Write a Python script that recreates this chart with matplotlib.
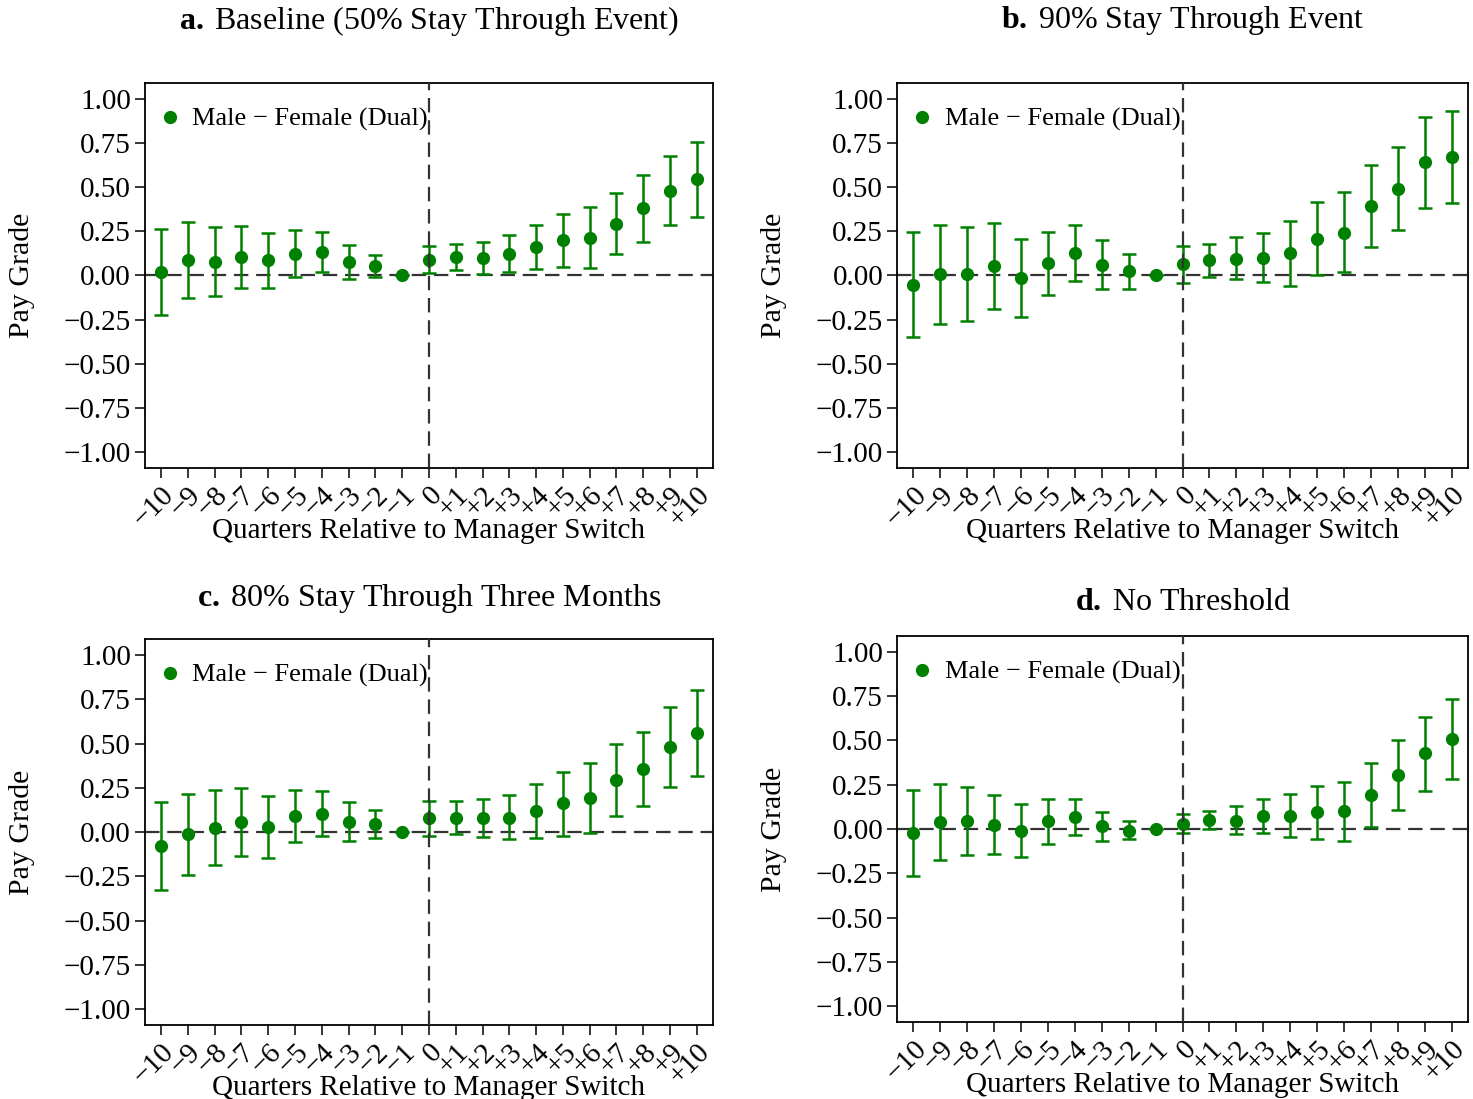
import matplotlib

matplotlib.use("Agg")
import matplotlib.pyplot as plt
from matplotlib.lines import Line2D

plt.rcParams["font.family"] = ["Liberation Serif", "DejaVu Serif"]
plt.rcParams["mathtext.fontset"] = "custom"
plt.rcParams["mathtext.rm"] = "Liberation Serif"
plt.rcParams["mathtext.bf"] = "Liberation Serif:bold"

quarters = list(range(-10, 11))
tick_labels = ["\u2212" + str(-q) if q < 0 else ("0" if q == 0 else "+" + str(q)) for q in quarters]
y_ticks = [1.0, 0.75, 0.5, 0.25, 0.0, -0.25, -0.5, -0.75, -1.0]

# panel a: baseline (50% stay through event)
est_a = [0.019, 0.090, 0.079, 0.105, 0.085, 0.124, 0.134, 0.075, 0.053, 0.0,
         0.089, 0.104, 0.098, 0.124, 0.162, 0.198, 0.213, 0.294, 0.380, 0.480, 0.544]
hi_a = [0.264, 0.305, 0.277, 0.282, 0.241, 0.256, 0.245, 0.171, 0.117, 0.0,
        0.166, 0.177, 0.190, 0.228, 0.286, 0.350, 0.390, 0.469, 0.567, 0.678, 0.757]
lo_a = [-0.226, -0.128, -0.117, -0.070, -0.070, -0.011, 0.021, -0.019, -0.011, 0.0,
        0.013, 0.032, 0.009, 0.021, 0.036, 0.047, 0.041, 0.119, 0.192, 0.284, 0.333]

# panel b: 90% stay through event
est_b = [-0.053, 0.008, 0.008, 0.053, -0.017, 0.072, 0.126, 0.060, 0.023, 0.0,
         0.066, 0.087, 0.096, 0.100, 0.125, 0.209, 0.243, 0.396, 0.491, 0.642, 0.668]
hi_b = [0.245, 0.287, 0.272, 0.296, 0.204, 0.247, 0.285, 0.198, 0.123, 0.0,
        0.168, 0.181, 0.215, 0.238, 0.308, 0.415, 0.472, 0.628, 0.725, 0.898, 0.930]
lo_b = [-0.351, -0.275, -0.257, -0.189, -0.236, -0.109, -0.034, -0.079, -0.077, 0.0,
        -0.040, -0.006, -0.021, -0.036, -0.058, 0.004, 0.017, 0.160, 0.258, 0.383, 0.408]

# panel c: 80% stay through three months
est_c = [-0.080, -0.010, 0.025, 0.057, 0.029, 0.093, 0.104, 0.059, 0.048, 0.0,
         0.078, 0.080, 0.078, 0.080, 0.120, 0.163, 0.193, 0.294, 0.355, 0.483, 0.558]
hi_c = [0.170, 0.216, 0.240, 0.248, 0.204, 0.240, 0.232, 0.167, 0.127, 0.0,
        0.178, 0.175, 0.187, 0.208, 0.271, 0.342, 0.392, 0.498, 0.564, 0.708, 0.802]
lo_c = [-0.328, -0.240, -0.187, -0.135, -0.146, -0.054, -0.025, -0.050, -0.033, 0.0,
        -0.025, -0.012, -0.029, -0.042, -0.031, -0.020, -0.007, 0.090, 0.146, 0.257, 0.315]

# panel d: no threshold
est_d = [-0.023, 0.041, 0.043, 0.025, -0.009, 0.043, 0.068, 0.015, -0.009, 0.0,
         0.030, 0.051, 0.047, 0.074, 0.075, 0.096, 0.100, 0.194, 0.307, 0.428, 0.511]
hi_d = [0.219, 0.254, 0.235, 0.192, 0.139, 0.168, 0.170, 0.094, 0.045, 0.0,
        0.083, 0.104, 0.128, 0.172, 0.196, 0.245, 0.268, 0.371, 0.503, 0.635, 0.735]
lo_d = [-0.264, -0.173, -0.145, -0.139, -0.158, -0.085, -0.036, -0.066, -0.058, 0.0,
        -0.025, -0.002, -0.030, -0.025, -0.045, -0.055, -0.068, 0.013, 0.109, 0.217, 0.283]

titles = [
    r"$\bf{a.}\,$Baseline (50% Stay Through Event)",
    r"$\bf{b.}\,$90% Stay Through Event",
    r"$\bf{c.}\,$80% Stay Through Three Months",
    r"$\bf{d.}\,$No Threshold",
]
panels = [(est_a, lo_a, hi_a), (est_b, lo_b, hi_b), (est_c, lo_c, hi_c), (est_d, lo_d, hi_d)]

# axes boxes [left, bottom, width, height] in figure fractions
boxes = [
    [0.0984, 0.5742, 0.3856, 0.3503],
    [0.6090, 0.5742, 0.3876, 0.3503],
    [0.0984, 0.0673, 0.3856, 0.3512],
    [0.6090, 0.0701, 0.3876, 0.3512],
]
title_y = [0.9810, 0.9810, 0.4550, 0.4520]

GREEN = "#008000"
fig = plt.figure(figsize=(14.73, 10.99), dpi=100)

for box, ty, title, (est, lo, hi) in zip(boxes, title_y, titles, panels):
    ax = fig.add_axes(box)
    yerr = [[e - l for e, l in zip(est, lo)], [h - e for e, h in zip(est, hi)]]
    ax.axhline(0, color="#333333", lw=1.6, ls=(0, (6.5, 3.5)), zorder=1)
    ax.axvline(0, color="#333333", lw=1.6, ls=(0, (6.5, 3.5)), zorder=4)
    ax.errorbar(quarters, est, yerr=yerr, fmt="o", color=GREEN, ms=8.5,
                elinewidth=1.8, capsize=5, capthick=1.8, zorder=3)
    ax.set_xlim(-10.6, 10.6)
    ax.set_ylim(-1.09, 1.09)
    ax.set_yticks(y_ticks)
    ax.set_yticklabels([f"{v:.2f}".replace("-", "\u2212") for v in y_ticks])
    ax.set_xticks(quarters)
    ax.set_xticklabels(tick_labels, rotation=45, ha="right", rotation_mode="anchor")
    ax.tick_params(direction="out", length=7, width=1.1, labelsize=21, pad=3)
    for s in ax.spines.values():
        s.set_linewidth(1.3)
    ax.set_xlabel("Quarters Relative to Manager Switch", fontsize=21)
    ax.xaxis.set_label_coords(0.5, -0.13)
    ax.set_ylabel("Pay Grade", fontsize=21.5)
    ax.yaxis.set_label_coords(-0.193, 0.5)
    handle = Line2D([], [], ls="none", marker="o", color=GREEN, ms=8.5)
    ax.legend([handle], ["Male \u2212 Female (Dual)"], loc="upper left",
              bbox_to_anchor=(0.007, 0.964), frameon=False, fontsize=19,
              handlelength=0.8, handletextpad=0.45, borderaxespad=0, borderpad=0.4)
    fig.text(box[0] + box[2] / 2, ty, title, ha="center", va="center", fontsize=23)

fig.savefig("out.png", dpi=100)
